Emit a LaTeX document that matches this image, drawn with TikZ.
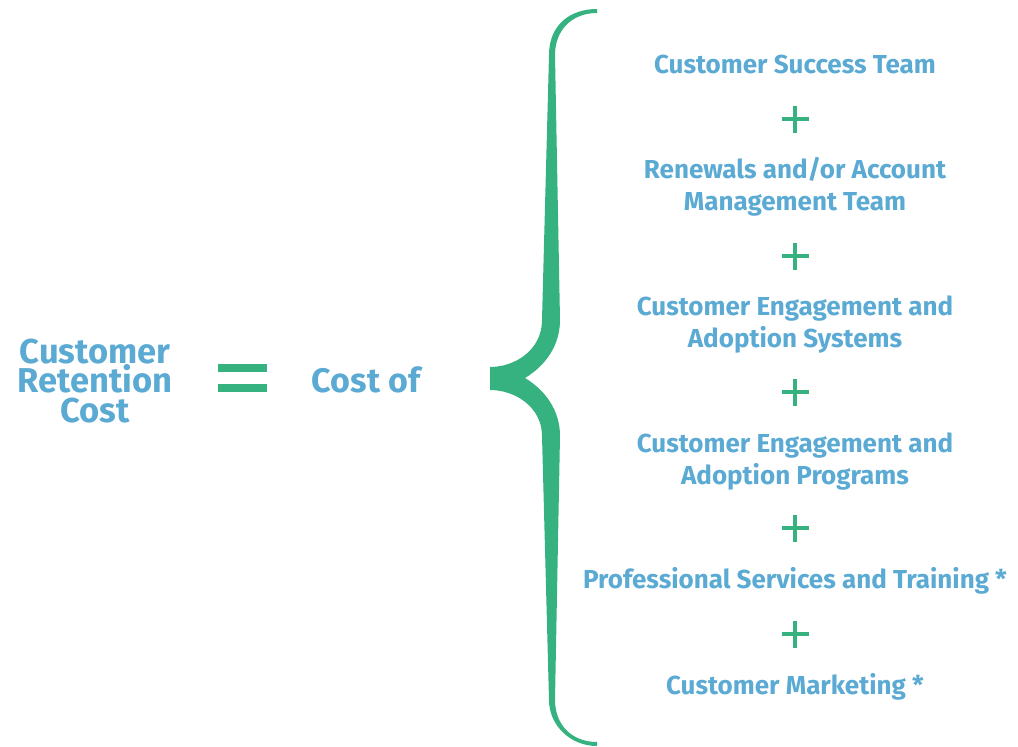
\documentclass[tikz,border=0pt]{standalone}
\usepackage{fontspec}
\setmainfont{Fira Sans}
\definecolor{tblue}{RGB}{91,170,211}
\definecolor{tgreen}{RGB}{54,178,128}
\begin{document}
\begin{tikzpicture}[x=1pt,y=-1pt,
  item/.style={text=tblue, font=\bfseries\fontsize{26}{30}\selectfont, inner sep=0pt, anchor=base},
  big/.style={text=tblue, font=\bfseries\fontsize{34.5}{30}\selectfont, inner sep=0pt, anchor=base, text height=25pt, text depth=0pt},
  plusbar/.style={draw=tgreen, line width=4pt},
  eqbar/.style={fill=tgreen, draw=none}]
\useasboundingbox (0,0) rectangle (1018,747);
% left side
\node[big] (crc1) at (95,363) {Customer};
\node[big] (crc2) at (95,392) {Retention};
\node[big] (crc3) at (95,422) {Cost};
\fill[tgreen] (218,364) rectangle (267,372);
\fill[tgreen] (218,384) rectangle (267,392);
\node[big, font=\bfseries\fontsize{34}{30}\selectfont] (costof) at (366,392) {Cost of};
% brace
\fill[tgreen] (597,9) .. controls (570,9) and (549,25) .. (549,55)
  -- (542,320) .. controls (542,350) and (515,367) .. (490,367)
  -- (490,390) .. controls (515,390) and (542,407) .. (542,436)
  -- (549,700) .. controls (549,725) and (570,746) .. (597,746)
  -- (597,742) .. controls (572,742) and (555,725) .. (555,700)
  -- (560,436) .. controls (560,410) and (545,390) .. (525,378)
  .. controls (545,366) and (560,346) .. (560,320)
  -- (555,55) .. controls (555,30) and (572,13) .. (597,13) -- cycle;
% right side
\node[item] (i1) at (795,73) {Customer Success Team};
\node[item] (i2a) at (795,178) {Renewals and/or Account};
\node[item] (i2b) at (795,210) {Management Team};
\node[item] (i3a) at (795,315) {Customer Engagement and};
\node[item] (i3b) at (795,347) {Adoption Systems};
\node[item] (i4a) at (795,452) {Customer Engagement and};
\node[item] (i4b) at (795,484) {Adoption Programs};
\node[item] (i5) at (795,588) {Professional Services and Training *};
\node[item] (i6) at (795,694) {Customer Marketing *};
\foreach \y in {119,256,392,528,634}{
  \draw[plusbar] (781.5,\y) -- (808.5,\y);
  \draw[plusbar] (795,\y-13.5) -- (795,\y+13.5);
}
\end{tikzpicture}
\end{document}
